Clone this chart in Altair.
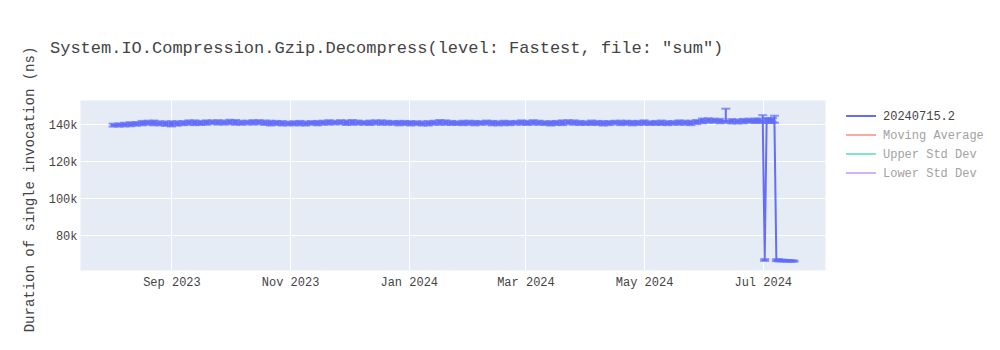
import altair as alt
import pandas as pd

TITLE = 'System.IO.Compression.Gzip.Decompress(level: Fastest, file: "sum")'
SERIES = "20240715.2"
HIDDEN = ["Moving Average", "Upper Std Dev", "Lower Std Dev"]
HIDDEN_COLORS = ["#f7aa9d", "#80e5ca", "#d5b1fc"]
MAIN_COLOR = "#636efa"
FONT = "Liberation Mono"

# sampling grid (every 3 days) then daily points in July 2024
grid_dates = pd.date_range("2023-08-02", periods=111, freq="3D").strftime("%Y-%m-%d").tolist()
late_dates = ["2024-06-29", "2024-07-01", "2024-07-02", "2024-07-03", "2024-07-04",
              "2024-07-05", "2024-07-06", "2024-07-07", "2024-07-08", "2024-07-09",
              "2024-07-10", "2024-07-11", "2024-07-12", "2024-07-13", "2024-07-14",
              "2024-07-15", "2024-07-16", "2024-07-17"]

# durations in thousands of ns
grid_values = [139.5, 139.6, 139.8, 140.0, 140.2, 140.6, 140.8, 140.7, 140.5, 140.3,
               140.2, 140.4, 140.6, 140.9, 140.8, 140.7, 140.9, 141.1, 141.0, 140.9,
               141.2, 141.0, 140.8, 140.9, 141.0, 141.1, 140.8, 140.6, 140.7, 140.5,
               140.4, 140.5, 140.6, 140.4, 140.7, 140.6, 140.8, 141.0, 140.9, 141.1,
               140.8, 141.0, 140.9, 140.7, 140.8, 141.0, 140.9, 140.8, 140.7, 140.6,
               140.7, 140.5, 140.6, 140.4, 140.5, 140.8, 141.0, 140.9, 140.7, 140.6,
               140.7, 140.8, 140.6, 140.7, 140.9, 140.6, 140.5, 140.7, 140.6, 140.8,
               140.9, 140.7, 141.0, 140.8, 140.6, 140.5, 140.7, 140.8, 141.1, 140.9,
               140.7, 140.6, 140.8, 140.7, 140.5, 140.6, 140.9, 140.7, 140.8, 140.6,
               140.7, 140.9, 140.6, 140.7, 140.8, 140.6, 140.7, 140.9, 140.8, 140.7,
               141.2, 141.8, 142.0, 141.9, 141.7, 141.8, 141.6, 141.5, 141.7, 141.9,
               141.8]
late_values = [142.0, 141.9, 66.6, 142.1, 142.0, 141.8, 142.2, 142.0, 66.5, 66.4,
               66.4, 66.3, 66.3, 66.2, 66.2, 66.1, 66.1, 66.0]

grid_err = [0.8, 0.9, 1.0, 1.1, 1.0, 1.2, 1.1, 1.3, 1.1, 1.2,
            1.4, 1.2, 1.1, 1.2, 1.3, 1.1, 1.2, 1.0, 1.2, 1.1,
            1.2, 1.3, 1.1, 1.0, 1.2, 1.1, 1.2, 1.3, 1.1, 1.2,
            1.0, 1.1, 1.2, 1.1, 1.0, 1.2, 1.1, 1.2, 1.0, 1.1,
            1.2, 1.3, 1.1, 1.0, 1.2, 1.1, 1.2, 1.1, 1.0, 1.2,
            1.1, 1.2, 1.0, 1.1, 1.2, 1.1, 1.3, 1.2, 1.1, 1.0,
            1.2, 1.1, 1.2, 1.0, 1.1, 1.2, 1.1, 1.2, 1.1, 1.0,
            1.2, 1.1, 1.2, 1.1, 1.0, 1.2, 1.1, 1.3, 1.1, 1.2,
            1.1, 1.0, 1.2, 1.1, 1.2, 1.1, 1.0, 1.2, 1.1, 1.2,
            1.1, 1.2, 1.0, 1.1, 1.2, 1.1, 1.0, 1.2, 1.1, 1.2,
            1.1, 1.3, 1.2, 1.1, 1.2, 1.1, 1.2, 1.1, 1.2, 1.1,
            1.2]
late_err = [1.1, 1.2, 0.5, 1.2, 1.1, 1.2, 1.1, 1.2, 0.5, 0.5,
            0.4, 0.4, 0.4, 0.4, 0.3, 0.3, 0.3, 0.3]

# upper error-bar ends that stick out (thousands of ns)
upper_outliers = {"2024-06-12": 148.4, "2024-07-01": 144.9, "2024-07-07": 144.6}

df = pd.DataFrame({
    "date": grid_dates + late_dates,
    "value": [v * 1000 for v in grid_values + late_values],
    "err": [e * 1000 for e in grid_err + late_err],
})
df["lo"] = df["value"] - df["err"]
df["hi"] = df["value"] + df["err"]
for d, h in upper_outliers.items():
    df.loc[df["date"] == d, "hi"] = h * 1000
df["series"] = SERIES

hidden_df = pd.DataFrame({"series": HIDDEN, "date": [None] * 3, "value": [None] * 3})

x_scale = alt.Scale(type="utc",
                    domain=[alt.DateTime(year=2023, month=7, date=16, utc=True),
                            alt.DateTime(year=2024, month=8, date=2, utc=True)])
y_scale = alt.Scale(domain=[61200, 153100], nice=False, zero=False)

x_axis = alt.Axis(title=None, labelExpr="utcFormat(datum.value, '%b %Y')", labelPadding=6,
                  values=[alt.DateTime(year=2023, month=9, date=1, utc=True),
                          alt.DateTime(year=2023, month=11, date=1, utc=True),
                          alt.DateTime(year=2024, month=1, date=1, utc=True),
                          alt.DateTime(year=2024, month=3, date=1, utc=True),
                          alt.DateTime(year=2024, month=5, date=1, utc=True),
                          alt.DateTime(year=2024, month=7, date=1, utc=True)])
y_axis = alt.Axis(title="Duration of single invocation (ns)", format="~s",
                  values=[80000, 100000, 120000, 140000], labelPadding=3,
                  titleX=-51, titleY=89, titleAngle=270, titleAlign="center",
                  titleBaseline="middle")

legend_common = dict(title=None, orient="none", symbolType="M-3,0L3,0", symbolSize=100,
                     symbolStrokeWidth=2, labelFont=FONT, labelFontSize=12,
                     labelOffset=16, padding=0, rowPadding=7, legendX=775)

base = alt.Chart(df)
x_enc = alt.X("date:T", scale=x_scale, axis=x_axis)

line = base.mark_line(strokeWidth=2).encode(
    x=x_enc,
    y=alt.Y("value:Q", scale=y_scale, axis=y_axis),
    color=alt.Color("series:N", scale=alt.Scale(domain=[SERIES], range=[MAIN_COLOR]),
                    legend=alt.Legend(labelColor="#444", legendY=10, **legend_common)),
)
# short error bars sit densely and merge into a solid band; long ones stay thin
rules = base.mark_rule(color=MAIN_COLOR).encode(
    x=x_enc,
    y=alt.Y("lo:Q", scale=y_scale, axis=y_axis),
    y2="hi:Q",
    strokeWidth=alt.condition("datum.hi - datum.lo < 3000", alt.value(5), alt.value(2)),
)
caps_lo = base.mark_tick(color=MAIN_COLOR, orient="horizontal", size=9, thickness=2).encode(
    x=x_enc, y=alt.Y("lo:Q", scale=y_scale, axis=y_axis))
caps_hi = base.mark_tick(color=MAIN_COLOR, orient="horizontal", size=9, thickness=2).encode(
    x=x_enc, y=alt.Y("hi:Q", scale=y_scale, axis=y_axis))

hidden = alt.Chart(hidden_df).mark_line(strokeWidth=2).encode(
    x=x_enc,
    y=alt.Y("value:Q", scale=y_scale, axis=y_axis),
    color=alt.Color("series:N", scale=alt.Scale(domain=HIDDEN, range=HIDDEN_COLORS),
                    legend=alt.Legend(labelColor="#a2a2a2", legendY=29, **legend_common)),
)

chart = alt.layer(line, rules, caps_lo, caps_hi, hidden).resolve_scale(
    color="independent"
).properties(
    width=745, height=170,
    title=alt.TitleParams(TITLE, anchor="start", frame="group", dx=-30, dy=19, font=FONT,
                          fontSize=17, fontWeight="normal", color="#444", offset=0,
                          baseline="middle"),
    autosize=alt.AutoSizeParams(type="none"),
    padding={"left": 80, "top": 100, "right": 175, "bottom": 80},
).configure_view(
    fill="#E5ECF6", stroke="transparent"
).configure_axis(
    domain=False, ticks=False, gridColor="white", gridWidth=1,
    labelFont=FONT, labelFontSize=12, labelColor="#444",
    titleFont=FONT, titleFontSize=14, titleFontWeight="normal", titleColor="#444",
)

chart.save("out.html", embed_options={"renderer": "svg", "actions": False})
